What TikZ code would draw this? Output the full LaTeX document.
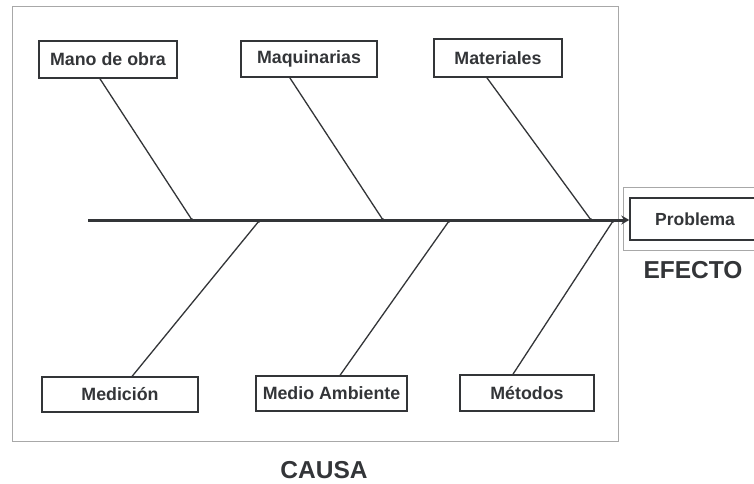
\documentclass[tikz,border=0pt]{standalone}
\usepackage{fontspec}
\setmainfont{Liberation Sans}
\usetikzlibrary{calc,arrows.meta}
\definecolor{ink}{HTML}{333538}
\definecolor{frame}{HTML}{A8A8A8}
\tikzset{
  cause/.style={draw=ink, line width=1.4pt, text=ink, inner sep=0pt,
    font=\fontsize{17.8}{20}\selectfont\bfseries},
  bone/.style={draw=ink, line width=1.3pt},
  spine/.style={draw=ink, line width=3pt, -{Stealth[length=8pt,width=9pt]}},
  outerframe/.style={draw=frame, line width=0.9pt},
  biglabel/.style={text=ink, inner sep=0pt, font=\fontsize{24.5}{28}\selectfont\bfseries}
}
\begin{document}
\begin{tikzpicture}[x=1pt,y=-1pt]
\clip (0,0) rectangle (754,483);
\fill[white] (0,0) rectangle (754,483);
% outer frames
\draw[outerframe] (12,6) rectangle (618,441);
\draw[outerframe] (623,187) rectangle (770,250);
% cause boxes
\node[cause, minimum width=138pt, minimum height=37pt] (mano) at (108,59.5) {Mano de obra};
\node[cause, minimum width=136pt, minimum height=36pt] (maq) at (309,59) {Maquinarias};
\node[cause, minimum width=128pt, minimum height=38pt] (mat) at (498,58) {Materiales};
\node[cause, minimum width=156pt, minimum height=35pt] (med) at (120,394.5) {Medición};
\node[cause, minimum width=151pt, minimum height=35pt] (amb) at (331.5,393.5) {Medio Ambiente};
\node[cause, minimum width=134pt, minimum height=36pt] (met) at (527,393) {Métodos};
% effect box
\node[cause, minimum width=130pt, minimum height=42pt, font=\fontsize{17.5}{20}\selectfont\bfseries] (prob) at (695,219) {Problema};
% spine
\coordinate (tail) at (88,220);
\draw[spine] (tail) -- (tail -| prob.west);
% junctions on spine
\coordinate (j1) at (192,220);
\coordinate (j2) at (383,220);
\coordinate (j3) at (591,220);
\coordinate (j4) at (259,221);
\coordinate (j5) at (449,221);
\coordinate (j6) at (613,221);
\draw[bone] ($(mano.south west)!0.442!(mano.south east)$) -- (j1);
\draw[bone] ($(maq.south west)!0.36!(maq.south east)$) -- (j2);
\draw[bone] ($(mat.south west)!0.414!(mat.south east)$) -- (j3);
\draw[bone] ($(med.north west)!0.577!(med.north east)$) -- (j4);
\draw[bone] ($(amb.north west)!0.556!(amb.north east)$) -- (j5);
\draw[bone] ($(met.north west)!0.396!(met.north east)$) -- (j6);
\foreach \j in {j1,j2,j3,j4,j5,j6} \fill[ink] (\j) circle (1.8pt);
% labels
\node[biglabel] (efecto) at (693,270) {EFECTO};
\node[biglabel] (causa) at (324,470) {CAUSA};
\end{tikzpicture}
\end{document}
